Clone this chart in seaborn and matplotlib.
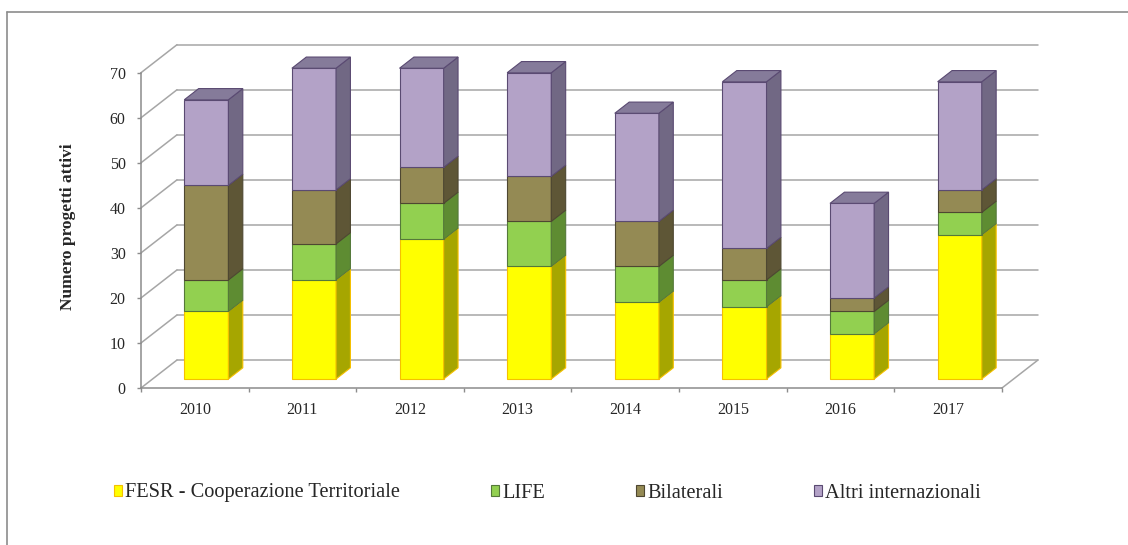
import matplotlib
matplotlib.use("Agg")
import matplotlib.pyplot as plt
import matplotlib.transforms as mtransforms
from matplotlib.patches import Polygon, Patch
from matplotlib.lines import Line2D
import numpy as np
import seaborn as sns

# data
years = ["2010", "2011", "2012", "2013", "2014", "2015", "2016", "2017"]
fesr = [15, 22, 31, 25, 17, 16, 10, 32]
life = [7, 8, 8, 10, 8, 6, 5, 5]
bilaterali = [21, 12, 8, 10, 10, 7, 3, 5]
altri = [19, 27, 22, 23, 24, 37, 21, 24]
series_names = ["FESR - Cooperazione Territoriale", "LIFE", "Bilaterali", "Altri internazionali"]
y_ticks = [0, 10, 20, 30, 40, 50, 60, 70]

# face / side / edge colours per series
face_colors = ["#FFFF00", "#92D050", "#948A54", "#B3A2C7"]
side_colors = ["#A6A600", "#5E8C32", "#5E5636", "#716884"]
edge_colors = ["#F5C000", "#55793A", "#4E4731", "#5A4A72"]
top_color = "#857B9A"

sns.set_style("white")
plt.rcParams["font.family"] = ["Liberation Serif", "DejaVu Serif"]

W, H = 1128, 545
fig = plt.figure(figsize=(W / 100, H / 100), dpi=100)

# oblique "3D" projection constants (data units)
DX, DY = 36 / 107.6, 28 / 4.504          # full depth of the box
f_front, f_depth = 0.32, 0.40            # where bars sit inside the depth
bx, by = DX * f_front, DY * f_front
sx, sy = DX * f_depth, DY * f_depth
ymax = max(y_ticks)

ax = fig.add_axes([141 / W, (H - 388) / H, 897 / W, (388 - 44.7) / H])
ax.set_facecolor("none")

# back wall gridlines + side wall diagonals
grid_col = "#A6A6A6"
for v in y_ticks:
    ax.plot([-0.5, -0.5 + DX], [v, v + DY], color=grid_col, lw=1.1, zorder=0.5, clip_on=False)
    ax.plot([-0.5 + DX, len(years) - 0.5 + DX], [v + DY, v + DY], color=grid_col, lw=1.1,
            zorder=0.5, clip_on=False)
ax.plot([len(years) - 0.5, len(years) - 0.5 + DX], [0, DY], color=grid_col, lw=1.1,
        zorder=0.5, clip_on=False)

# stacked bars, front faces drawn by seaborn then shifted into the box depth
shift = mtransforms.Affine2D().translate(bx, by) + ax.transData
layers = [fesr, life, bilaterali, altri]
base = np.zeros(len(years))
for i, vals in enumerate(layers):
    n_before = len(ax.patches)
    sns.barplot(x=years, y=vals, bottom=base, width=0.41, color=face_colors[i],
                edgecolor=edge_colors[i], linewidth=0.8, saturation=1, ax=ax)
    new_bars = ax.patches[n_before:]
    for p in new_bars:
        p.set_transform(shift)
        x0 = p.get_x() + bx
        x1 = x0 + p.get_width()
        y0 = p.get_y() + by
        y1 = y0 + p.get_height()
        side = Polygon([(x1, y0), (x1 + sx, y0 + sy), (x1 + sx, y1 + sy), (x1, y1)],
                       closed=True, facecolor=side_colors[i], edgecolor=edge_colors[i],
                       lw=0.8, zorder=1)
        ax.add_patch(side)
        if i == len(layers) - 1:
            top = Polygon([(x0, y1), (x1, y1), (x1 + sx, y1 + sy), (x0 + sx, y1 + sy)],
                          closed=True, facecolor=top_color, edgecolor=edge_colors[i],
                          lw=0.8, zorder=1)
            ax.add_patch(top)
    base = base + np.array(vals)

ax.set_xlim(-0.5, len(years) - 0.5 + DX)
ax.set_ylim(0, ymax + DY)

# axes lines
for s in ["top", "right"]:
    ax.spines[s].set_visible(False)
ax.spines["left"].set_bounds(0, ymax)
ax.spines["bottom"].set_bounds(-0.5, len(years) - 0.5)
for s in ["left", "bottom"]:
    ax.spines[s].set_color("#8C8C8C")
    ax.spines[s].set_linewidth(1.1)

ax.set_yticks(y_ticks)
ax.set_yticklabels([str(v) for v in y_ticks], fontsize=11.5)
ax.tick_params(axis="y", length=3, width=1, color="#8C8C8C", pad=8, left=True)
ax.set_xticks(range(len(years)))
ax.set_xticklabels(years, fontsize=11.5)
ax.set_xticks(np.arange(-0.5, len(years)), minor=True)
ax.tick_params(axis="x", which="major", length=0, pad=10)
ax.tick_params(axis="x", which="minor", length=3, width=1, color="#8C8C8C", bottom=True)
ax.set_xlabel("")
ax.set_ylabel("")

fig.text(68 / W, 1 - 227 / H, "Numero progetti attivi", rotation=90, ha="center",
         va="center", fontsize=12.5, fontweight="bold")

# legend
handles = [Patch(facecolor=face_colors[i], edgecolor=edge_colors[i], lw=0.8)
           for i in range(len(series_names))]
fig.legend(handles, series_names, ncol=4, loc="center left",
           bbox_to_anchor=(114 / W, 1 - 493 / H), frameon=False, fontsize=14.7,
           handlelength=0.4, handleheight=0.45, handletextpad=0.15, columnspacing=4.45,
           borderpad=0, borderaxespad=0)

# chart area border (left and top visible)
fig.add_artist(Line2D([7 / W, 7 / W], [0, 1 - 12 / H], color="#8C8C8C", lw=1.2))
fig.add_artist(Line2D([7 / W, 1], [1 - 12 / H, 1 - 12 / H], color="#8C8C8C", lw=1.2))

fig.savefig("out.png", dpi=100)
